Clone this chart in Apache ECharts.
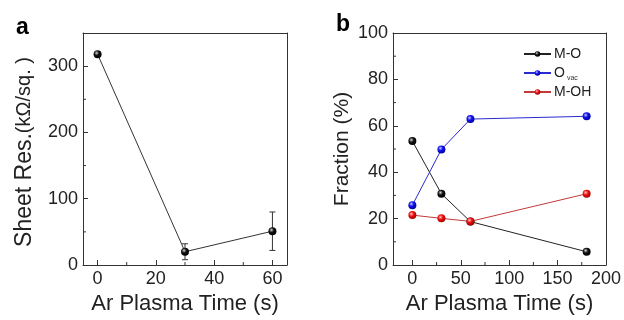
<!DOCTYPE html>
<html><head><meta charset="utf-8">
<script src="https://cdn.jsdelivr.net/npm/echarts@6/dist/echarts.min.js"></script>
<style>html,body{margin:0;padding:0;background:#fff}#c{width:624px;height:320px}</style>
</head><body><div id="c"></div>
<script>
// Panel a
const timeA = [0, 30, 60];
const sheetRes = [318, 20, 51];
const errLow = [318, 8, 22];
const errHigh = [318, 32, 80];
const ticksAx = [0, 20, 40, 60];
const minorAx = [10, 30, 50];
const ticksAy = [0, 100, 200, 300];
const minorAy = [50, 150, 250];
// Panel b
const timeB = [0, 30, 60, 180];
const mo = [53.4, 30.7, 18.7, 5.7];
const ovac = [25.8, 49.8, 62.9, 64.1];
const moh = [21.5, 20.1, 18.8, 30.7];
const ticksBx = [0, 50, 100, 150, 200];
const minorBx = [25, 75, 125, 175];
const ticksBy = [0, 20, 40, 60, 80, 100];
const minorBy = [10, 30, 50, 70, 90];
const legendNames = ['M-O', 'Ovac', 'M-OH'];

const FONT = 'Liberation Sans, Arial, sans-serif';
const INK = '#222';
function sphere(c, hi, dark) {
  return {type: 'radial', x: 0.38, y: 0.35, r: 0.65,
    colorStops: [{offset: 0, color: hi}, {offset: 0.45, color: c}, {offset: 1, color: dark}]};
}
function mainAxis(extra, ticks, margin) {
  return Object.assign({
    type: 'value', splitLine: {show: false},
    axisLine: {show: true, onZero: false, lineStyle: {color: '#333', width: 1}},
    axisLabel: {fontSize: 18, color: INK, fontFamily: FONT, margin: margin, customValues: ticks},
    axisTick: {inside: true, length: 5, customValues: ticks, lineStyle: {color: '#333'}}
  }, extra);
}
function frameAxis(extra) {
  return Object.assign({type: 'value', splitLine: {show: false},
    axisLine: {show: true, onZero: false, lineStyle: {color: '#333', width: 1}},
    axisLabel: {show: false}, axisTick: {show: false}}, extra);
}
const xLabelName = 'Ar Plasma Time (s)';
const nameStyle = {fontSize: 22, color: INK, fontFamily: FONT};

const blackSph = sphere('#111', '#d8d8d8', '#000');
const blueSph = sphere('#1010f0', '#c8c8ff', '#0000a0');
const redSph = sphere('#f01010', '#ffc8c8', '#a00000');

function minorTickSeries(xi, yi, vals, dir) {
  return {type: 'custom', xAxisIndex: xi, yAxisIndex: yi, z: 2, silent: true,
    data: vals.map(v => [v]),
    renderItem: function (params, api) {
      const cs = params.coordSys;
      const v = api.value(0);
      let shape;
      if (dir === 'x') {
        const px = api.coord([v, 0])[0];
        const by = cs.y + cs.height;
        shape = {x1: px, y1: by, x2: px, y2: by - 3};
      } else {
        const py = api.coord([0, v])[1];
        shape = {x1: cs.x, y1: py, x2: cs.x + 3, y2: py};
      }
      return {type: 'line', shape: shape, style: {stroke: '#333', lineWidth: 1}};
    }};
}

function legendAt(name, top) {
  return {
    orient: 'vertical', left: 523, top: top, padding: 0, itemWidth: 27, itemHeight: 7, itemGap: 0,
    data: [name],
    formatter: function (n) { return n === 'Ovac' ? '{m|O}{s|vac}' : '{m|' + n + '}'; },
    textStyle: {fontSize: 14, color: INK, fontFamily: FONT, padding: [0, 0, 0, -2],
      rich: {m: {fontSize: 14, color: INK, fontFamily: FONT}, s: {fontSize: 7, color: '#333', fontFamily: FONT, padding: [10, 0, 0, 2]}}}
  };
}

const option = {
  animation: false,
  textStyle: {fontFamily: FONT},
  grid: [
    {left: 83, top: 33, width: 204, height: 236},
    {left: 393, top: 33, width: 214, height: 236}
  ],
  xAxis: [
    mainAxis({gridIndex: 0, position: 'bottom', min: -5, max: 65, name: xLabelName, nameLocation: 'middle', nameGap: 28, nameTextStyle: nameStyle}, ticksAx, 5),
    mainAxis({gridIndex: 1, position: 'bottom', min: -20, max: 200, name: xLabelName, nameLocation: 'middle', nameGap: 28, nameTextStyle: nameStyle}, ticksBx, 5),
    frameAxis({gridIndex: 0, position: 'top', min: -5, max: 65}),
    frameAxis({gridIndex: 1, position: 'top', min: -20, max: 200})
  ],
  yAxis: [
    mainAxis({gridIndex: 0, position: 'left', min: 0, max: 350,
      name: '{a|Sheet Res.}{b|(kΩ/sq. )}', nameLocation: 'middle', nameRotate: 90, nameGap: 47,
      nameTextStyle: {fontFamily: FONT, color: INK, rich: {a: {fontSize: 23, fontFamily: FONT, color: INK}, b: {fontSize: 20, fontFamily: FONT, color: INK, padding: [0, 6, 0, 0]}}}}, ticksAy, 5),
    mainAxis({gridIndex: 1, position: 'left', min: 0, max: 100, name: 'Fraction (%)', nameLocation: 'middle', nameRotate: 90, nameGap: 40,
      nameTextStyle: {fontSize: 21, color: INK, fontFamily: FONT}}, ticksBy, 5),
    frameAxis({gridIndex: 0, position: 'right', min: 0, max: 350}),
    frameAxis({gridIndex: 1, position: 'right', min: 0, max: 100})
  ],
  legend: [legendAt(legendNames[0], 47), legendAt(legendNames[1], 66), legendAt(legendNames[2], 85)],
  graphic: [
    {type: 'text', left: 16, top: 16, style: {text: 'a', font: 'bold 23px ' + FONT, fill: '#000'}},
    {type: 'text', left: 336, top: 13, style: {text: 'b', font: 'bold 23px ' + FONT, fill: '#000'}}
  ],
  series: [
    minorTickSeries(0, 0, minorAx, 'x'),
    minorTickSeries(0, 0, minorAy, 'y'),
    minorTickSeries(1, 1, minorBx, 'x'),
    minorTickSeries(1, 1, minorBy, 'y'),
    {type: 'custom', xAxisIndex: 0, yAxisIndex: 0, z: 1, silent: true,
      data: timeA.map((t, i) => [t, errLow[i], errHigh[i]]),
      renderItem: function (params, api) {
        const lo = api.coord([api.value(0), api.value(1)]);
        const hi = api.coord([api.value(0), api.value(2)]);
        const w = 3;
        const st = {stroke: '#333', lineWidth: 1};
        return {type: 'group', children: [
          {type: 'line', shape: {x1: lo[0], y1: lo[1], x2: hi[0], y2: hi[1]}, style: st},
          {type: 'line', shape: {x1: lo[0] - w, y1: lo[1], x2: lo[0] + w, y2: lo[1]}, style: st},
          {type: 'line', shape: {x1: hi[0] - w, y1: hi[1], x2: hi[0] + w, y2: hi[1]}, style: st}
        ]};
      }},
    {name: 'Sheet', type: 'line', xAxisIndex: 0, yAxisIndex: 0, z: 3,
      data: timeA.map((t, i) => [t, sheetRes[i]]),
      symbol: 'circle', symbolSize: 8, lineStyle: {color: '#333', width: 1},
      itemStyle: {color: blackSph, borderWidth: 0}},
    {name: 'M-O', type: 'line', xAxisIndex: 1, yAxisIndex: 1, z: 3,
      data: timeB.map((t, i) => [t, mo[i]]),
      symbol: 'circle', symbolSize: 8, lineStyle: {color: '#222', width: 1},
      itemStyle: {color: blackSph, borderWidth: 0}},
    {name: 'Ovac', type: 'line', xAxisIndex: 1, yAxisIndex: 1, z: 3,
      data: timeB.map((t, i) => [t, ovac[i]]),
      symbol: 'circle', symbolSize: 8, lineStyle: {color: '#2a2ad0', width: 1},
      itemStyle: {color: blueSph, borderWidth: 0}},
    {name: 'M-OH', type: 'line', xAxisIndex: 1, yAxisIndex: 1, z: 3,
      data: timeB.map((t, i) => [t, moh[i]]),
      symbol: 'circle', symbolSize: 8, lineStyle: {color: '#c03a3a', width: 1},
      itemStyle: {color: redSph, borderWidth: 0}}
  ]
};
const chart = echarts.init(document.getElementById('c'), null, {renderer: 'canvas'});
chart.setOption(option);
</script></body></html>
